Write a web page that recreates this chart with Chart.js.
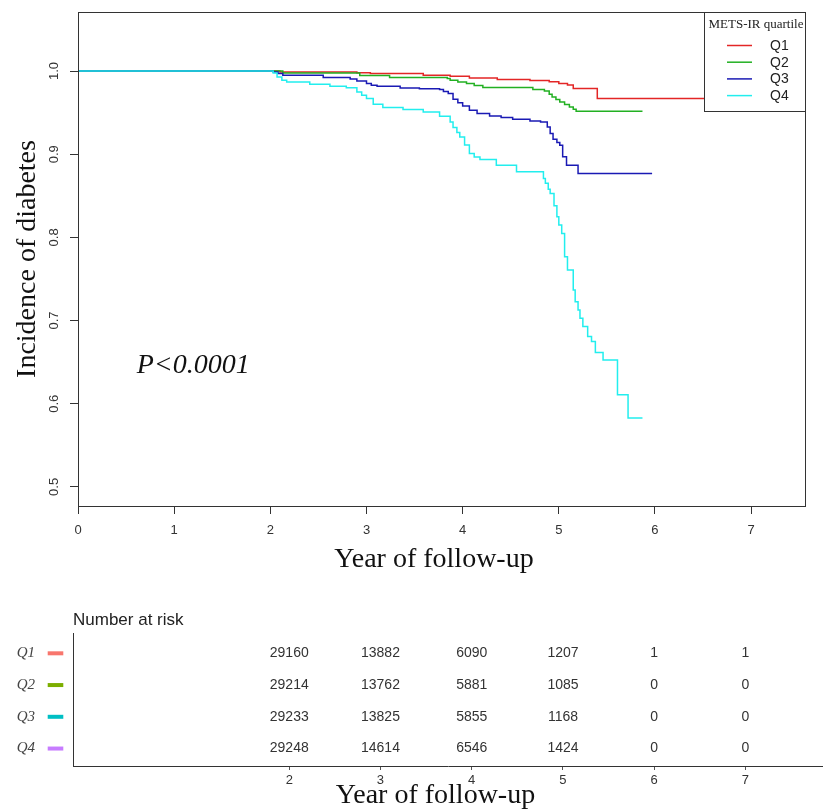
<!DOCTYPE html>
<html>
<head>
<meta charset="utf-8">
<script src="https://cdn.jsdelivr.net/npm/chart.js@4"></script>
<style>
  html, body { margin: 0; padding: 0; background: #fff; }
  #wrap { position: relative; width: 823px; height: 809px; }
  #km { position: absolute; left: 0; top: 0; }
  #risk { position: absolute; left: 0; top: 590px; }
</style>
</head>
<body>
<div id="wrap">
  <canvas id="km" width="823" height="590"></canvas>
  <canvas id="risk" width="823" height="219"></canvas>
</div>
<script>
// Kaplan-Meier curves (year, survival)
const groups = ["Q1", "Q2", "Q3", "Q4"];

const q1Time = [0, 2.0, 2.10, 2.9, 3.04, 3.59, 3.87, 4.07, 4.36, 4.70, 4.90, 5.00, 5.09, 5.15, 5.40, 7.1];
const q1Surv = [1, 1, 0.9988, 0.998, 0.997, 0.9948, 0.9936, 0.9916, 0.9897, 0.9885, 0.9872, 0.9849, 0.9832, 0.9789, 0.9669, 0.9669];

const q2Time = [0, 2.0, 2.13, 2.93, 3.24, 3.84, 3.87, 3.95, 4.04, 4.12, 4.21, 4.73, 4.85, 4.90, 4.93, 4.97, 5.01, 5.06, 5.11, 5.15, 5.18, 5.87];
const q2Surv = [1, 1, 0.9976, 0.9945, 0.9921, 0.9909, 0.9888, 0.9868, 0.9849, 0.9825, 0.9801, 0.9777, 0.976, 0.972, 0.9688, 0.9658, 0.9628, 0.9598, 0.9568, 0.954, 0.9516, 0.9516];

const q3Time = [0, 2.0, 2.03, 2.08, 2.13, 2.55, 2.83, 2.90, 3.00, 3.05, 3.11, 3.35, 3.55, 3.76, 3.80, 3.85, 3.90, 3.95, 4.00, 4.07, 4.15, 4.28, 4.40, 4.52, 4.70, 4.81, 4.88, 4.91, 4.94, 4.98, 5.01, 5.04, 5.08, 5.20, 5.97];
const q3Surv = [1, 1, 0.9988, 0.997, 0.9948, 0.9921, 0.9904, 0.988, 0.9849, 0.983, 0.9816, 0.9796, 0.9787, 0.9777, 0.9755, 0.9729, 0.966, 0.962, 0.958, 0.953, 0.9489, 0.946, 0.944, 0.942, 0.940, 0.9388, 0.9328, 0.925, 0.918, 0.914, 0.9108, 0.8968, 0.8868, 0.8768, 0.8768];

const q4Time = [0, 2.0, 2.03, 2.07, 2.12, 2.17, 2.41, 2.62, 2.79, 2.90, 2.95, 3.00, 3.07, 3.17, 3.38, 3.59, 3.76, 3.87, 3.90, 3.94, 3.97, 4.02, 4.07, 4.12, 4.18, 4.35, 4.56, 4.84, 4.86, 4.89, 4.91, 4.95, 4.98, 5.00, 5.03, 5.06, 5.09, 5.15, 5.17, 5.20, 5.22, 5.25, 5.30, 5.34, 5.38, 5.46, 5.61, 5.72, 5.87];
const q4Surv = [1, 1, 0.9976, 0.9928, 0.9888, 0.9868, 0.984, 0.9816, 0.980, 0.9748, 0.971, 0.9669, 0.960, 0.9561, 0.9537, 0.9508, 0.9456, 0.9388, 0.932, 0.926, 0.9208, 0.911, 0.9008, 0.8965, 0.8936, 0.8868, 0.8788, 0.8708, 0.865, 0.858, 0.8528, 0.838, 0.8247, 0.815, 0.8048, 0.7767, 0.7607, 0.7367, 0.7227, 0.7127, 0.7028, 0.6927, 0.6807, 0.6747, 0.6615, 0.6527, 0.6107, 0.5827, 0.5827];

// number at risk table
const riskTimes = [2, 3, 4, 5, 6, 7];
const riskQ1 = [29160, 13882, 6090, 1207, 1, 1];
const riskQ2 = [29214, 13762, 5881, 1085, 0, 0];
const riskQ3 = [29233, 13825, 5855, 1168, 0, 0];
const riskQ4 = [29248, 14614, 6546, 1424, 0, 0];

const lineColors = ["#e32626", "#22b022", "#1a1ab4", "#22eeee"];
const tableColors = ["#F8766D", "#7CAE00", "#00BFC4", "#C77CFF"];

const kmTimes = [q1Time, q2Time, q3Time, q4Time];
const kmSurv = [q1Surv, q2Surv, q3Surv, q4Surv];
const riskCounts = [riskQ1, riskQ2, riskQ3, riskQ4];

const sans = "'Liberation Sans', Arial, sans-serif";
const serif = "'Liberation Serif', 'Times New Roman', serif";

Chart.defaults.font.family = sans;
Chart.defaults.color = "#333";
Chart.defaults.animation = false;

// keep label overhang from shrinking the plot area
function noEdgePadding(s) {
  s.paddingTop = 0;
  s.paddingBottom = 0;
  s.paddingLeft = 0;
  s.paddingRight = 0;
}

// box, legend, p-value and x title for the top plot
const kmDecor = {
  id: "kmDecor",
  afterDraw(chart) {
    const { ctx, chartArea: a, scales } = chart;
    ctx.save();
    ctx.strokeStyle = "#333";
    ctx.lineWidth = 1;
    ctx.strokeRect(Math.round(a.left) + 0.5, Math.round(a.top) + 0.5,
      Math.round(a.right - a.left), Math.round(a.bottom - a.top));

    const lw = 101, lh = 99;
    const lx = Math.round(a.right) - lw, ly = Math.round(a.top);
    ctx.fillStyle = "#fff";
    ctx.fillRect(lx, ly, lw, lh);
    ctx.strokeRect(lx + 0.5, ly + 0.5, lw, lh);
    ctx.fillStyle = "#222";
    ctx.font = "13px " + serif;
    ctx.textAlign = "center";
    ctx.textBaseline = "middle";
    ctx.fillText("METS-IR quartile", lx + 52, ly + 13);
    ctx.font = "14px " + sans;
    ctx.textAlign = "left";
    chart.data.datasets.forEach((ds, i) => {
      const y = ly + 33.5 + i * 16.7;
      ctx.strokeStyle = ds.borderColor;
      ctx.lineWidth = 1.5;
      ctx.beginPath();
      ctx.moveTo(lx + 23, y);
      ctx.lineTo(lx + 48, y);
      ctx.stroke();
      ctx.fillText(ds.label, lx + 66, y + 0.5);
    });

    ctx.fillStyle = "#111";
    ctx.font = "italic 28px " + serif;
    ctx.textBaseline = "alphabetic";
    ctx.fillText("P<0.0001", scales.x.getPixelForValue(0.61), scales.y.getPixelForValue(0.637));

    ctx.font = "28px " + serif;
    ctx.textAlign = "center";
    ctx.fillText("Year of follow-up", 434, 566.5);
    ctx.restore();
  }
};

new Chart(document.getElementById("km"), {
  type: "line",
  data: {
    datasets: groups.map((g, i) => ({
      label: g,
      data: kmTimes[i].map((t, j) => ({ x: t, y: kmSurv[i][j] })),
      borderColor: lineColors[i],
      borderWidth: 1.5,
      pointRadius: 0,
      stepped: "before",
      fill: false,
      order: groups.length - i // Q4 on top, like R
    }))
  },
  options: {
    responsive: false,
    layout: { padding: { top: 12, right: 18, left: 0, bottom: 0 } },
    plugins: { legend: { display: false }, tooltip: { enabled: false } },
    scales: {
      x: {
        type: "linear",
        min: 0,
        max: 7.56,
        ticks: { stepSize: 1, includeBounds: false, padding: 9, maxRotation: 0, color: "#333", font: { size: 13 } },
        grid: { drawOnChartArea: false, tickLength: 8, color: "#333" },
        border: { color: "#333" },
        afterFit: s => { s.height = 84; noEdgePadding(s); }
      },
      y: {
        type: "linear",
        min: 0.477,
        max: 1.071,
        ticks: {
          stepSize: 0.1,
          includeBounds: false,
          minRotation: 90,
          maxRotation: 90,
          crossAlign: "center",
          padding: 7,
          color: "#333",
          font: { size: 13 },
          callback: v => Number(v).toFixed(1)
        },
        grid: { drawOnChartArea: false, tickLength: 8, color: "#333" },
        border: { color: "#333" },
        title: {
          display: true,
          text: "Incidence of diabetes",
          color: "#111",
          font: { family: serif, size: 28 },
          padding: { top: 11, bottom: 0 }
        },
        afterFit: s => { s.width = 78; noEdgePadding(s); }
      }
    }
  },
  plugins: [kmDecor]
});

// numbers, colour keys and titles for the risk table
const riskDecor = {
  id: "riskDecor",
  afterDraw(chart) {
    const { ctx, chartArea: a, scales } = chart;
    ctx.save();
    ctx.font = "14px " + sans;
    ctx.fillStyle = "#333";
    ctx.textAlign = "center";
    ctx.textBaseline = "middle";
    chart.data.datasets.forEach((ds, i) => {
      chart.getDatasetMeta(i).data.forEach((pt, j) => {
        ctx.fillText(String(riskCounts[i][j]), pt.x, pt.y);
      });
      const y = scales.y.getPixelForValue(i + 1);
      ctx.strokeStyle = tableColors[i];
      ctx.lineWidth = 4;
      ctx.beginPath();
      ctx.moveTo(a.left - 25.3, y);
      ctx.lineTo(a.left - 9.7, y);
      ctx.stroke();
    });
    ctx.font = "17px " + sans;
    ctx.fillStyle = "#222";
    ctx.textAlign = "left";
    ctx.textBaseline = "alphabetic";
    ctx.fillText("Number at risk", a.left, 35);

    ctx.font = "28px " + serif;
    ctx.fillStyle = "#111";
    ctx.textAlign = "center";
    ctx.fillText("Year of follow-up", 435.5, 213.3);
    ctx.restore();
  }
};

new Chart(document.getElementById("risk"), {
  type: "scatter",
  data: {
    datasets: groups.map((g, i) => ({
      label: g,
      data: riskTimes.map(t => ({ x: t, y: i + 1 })),
      pointRadius: 0
    }))
  },
  options: {
    responsive: false,
    layout: { padding: { top: 43, right: 0, left: 0, bottom: 0 } },
    plugins: { legend: { display: false }, tooltip: { enabled: false } },
    scales: {
      x: {
        type: "linear",
        min: -0.37,
        max: 7.85,
        afterBuildTicks: s => { s.ticks = riskTimes.map(v => ({ value: v })); },
        ticks: { padding: 3, maxRotation: 0, color: "#333", font: { size: 13 }, callback: v => String(v) },
        grid: { drawOnChartArea: false, tickLength: 4, color: "#555" },
        border: { color: "#333" },
        afterFit: s => { s.height = 43; noEdgePadding(s); }
      },
      y: {
        type: "linear",
        reverse: true,
        min: 0.36,
        max: 4.55,
        ticks: {
          stepSize: 1,
          includeBounds: false,
          padding: 38,
          color: "#444",
          font: { family: serif, style: "italic", size: 15 },
          callback: v => groups[v - 1]
        },
        grid: { display: false, drawTicks: false },
        border: { display: true, color: "#333" },
        afterFit: s => { s.width = 73; noEdgePadding(s); }
      }
    }
  },
  plugins: [riskDecor]
});
</script>
</body>
</html>
